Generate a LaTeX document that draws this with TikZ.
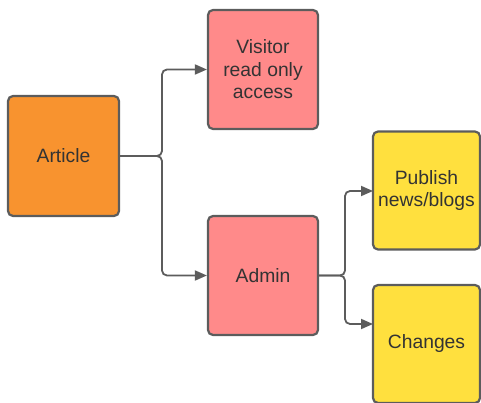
\documentclass[tikz,border=0pt]{standalone}
\usepackage{fontspec}
\setmainfont{Liberation Sans}
\usetikzlibrary{arrows.meta,positioning}
\definecolor{boxline}{HTML}{5C5C5C}
\definecolor{textgray}{HTML}{333333}
\definecolor{articleorange}{HTML}{F8932F}
\definecolor{rolepink}{HTML}{FF8A8A}
\definecolor{taskyellow}{HTML}{FFE03E}
\tikzstyle{block}=[rectangle,rounded corners=5pt,line width=2.2pt,draw=boxline,
text=textgray,align=center,font=\fontsize{19.3pt}{22.5pt}\selectfont]
\tikzstyle{article}=[block,fill=articleorange,minimum width=111pt,minimum height=120pt]
\tikzstyle{role}=[block,fill=rolepink,minimum width=110pt,minimum height=119pt]
\tikzstyle{task}=[block,fill=taskyellow,minimum width=107pt,minimum height=118pt]
\tikzstyle{link}=[line width=1.8pt,draw=boxline,rounded corners=5pt,
-{Triangle[length=12pt,width=10pt]}]

\begin{document}
\begin{tikzpicture}[x=1pt,y=-1pt]
            \useasboundingbox (0,0) rectangle (481,403);

            % Article and roles

            \node[article] (article) at (63.5,156) {Article};
            \node[role] (visitor) at (263,69.5) {Visitor\\read only\\access};
            \node[role] (admin) at (263,275.5) {Admin};

            % Admin tasks

            \node[task] (publish) at (426.5,190.5) {Publish\\news/blogs};
            \node[task] (changes) at (426.5,344) {Changes};

            \coordinate (j1) at (162,156);
            \coordinate (j2) at (345,275.5);
            \coordinate (pin) at (373,191);
            \coordinate (cin) at (373,324);

            \path[link] (article.east) -- (j1) |- (visitor.west);
            \path[link] (article.east) -- (j1) |- (admin.west);
            \path[link] (admin.east) -- (j2) |- (pin);
            \path[link] (admin.east) -- (j2) |- (cin);

        \end{tikzpicture}
\end{document}
